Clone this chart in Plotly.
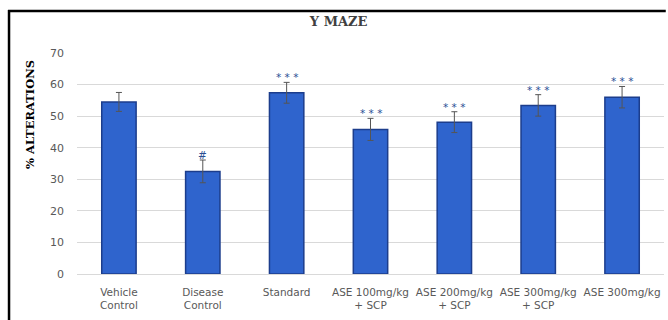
import plotly.graph_objects as go

categories = ["Vehicle<br>Control", "Disease<br>Control", "Standard", "ASE 100mg/kg<br>+ SCP",
              "ASE 200mg/kg<br>+ SCP", "ASE 300mg/kg<br>+ SCP", "ASE 300mg/kg"]
values = [54.5, 32.5, 57.4, 45.8, 48.1, 53.4, 56.0]
errors = [3.0, 3.6, 3.3, 3.5, 3.3, 3.4, 3.4]
signif = ["", "#", "* * *", "* * *", "* * *", "* * *", "* * *"]
y_ticks = [0, 10, 20, 30, 40, 50, 60, 70]

fig = go.Figure()
fig.add_trace(go.Bar(
    x=categories, y=values,
    marker=dict(color="#2F64CD", line=dict(color="#1C3D8C", width=1.5)),
    error_y=dict(type="data", array=errors, color="#555555", thickness=1, width=3),
    width=0.41,
))

for c, v, e, s in zip(categories, values, errors, signif):
    if s:
        fig.add_annotation(x=c, y=v + e, text=s, showarrow=False, yanchor="bottom", yshift=-3,
                           font=dict(family="DejaVu Sans", size=10.5, color="#2A4F94"))

# y-axis title
fig.add_annotation(xref="paper", yref="paper", x=-0.080, y=0.72, text="<b>% ALTERATIONS</b>",
                   textangle=-90, showarrow=False, xanchor="center", yanchor="middle",
                   font=dict(family="DejaVu Serif", size=11.5, color="black"))

# outer frame (top and left)
fig.add_shape(type="line", xref="paper", yref="paper", x0=-0.1175, x1=1.003, y0=1.19, y1=1.19,
              line=dict(color="black", width=2.5))
fig.add_shape(type="line", xref="paper", yref="paper", x0=-0.1158, x1=-0.1158, y0=1.195, y1=-0.21,
              line=dict(color="black", width=2.5))

fig.update_layout(
    width=668, height=320,
    margin=dict(l=77, r=4, t=53, b=46),
    paper_bgcolor="white", plot_bgcolor="white",
    showlegend=False,
    title=dict(text="<b>Y MAZE</b>", x=0.507, xanchor="center", y=0.932, yanchor="middle",
               font=dict(family="DejaVu Serif", size=13, color="#404040")),
    xaxis=dict(tickfont=dict(family="DejaVu Sans", size=10.5, color="#595959"),
               showline=True, linecolor="#D9D9D9", linewidth=1, ticks="", ticklabelstandoff=8),
    yaxis=dict(range=[0, 70], tickvals=y_ticks, gridcolor="#D9D9D9", gridwidth=1,
               zeroline=False, showline=False, ticks="", ticklabelstandoff=12,
               tickfont=dict(family="DejaVu Sans", size=11, color="#595959")),
)

fig.write_html("out.html", config={"displayModeBar": False},
               post_script="document.body.style.margin='0px';document.body.style.overflow='hidden';")
